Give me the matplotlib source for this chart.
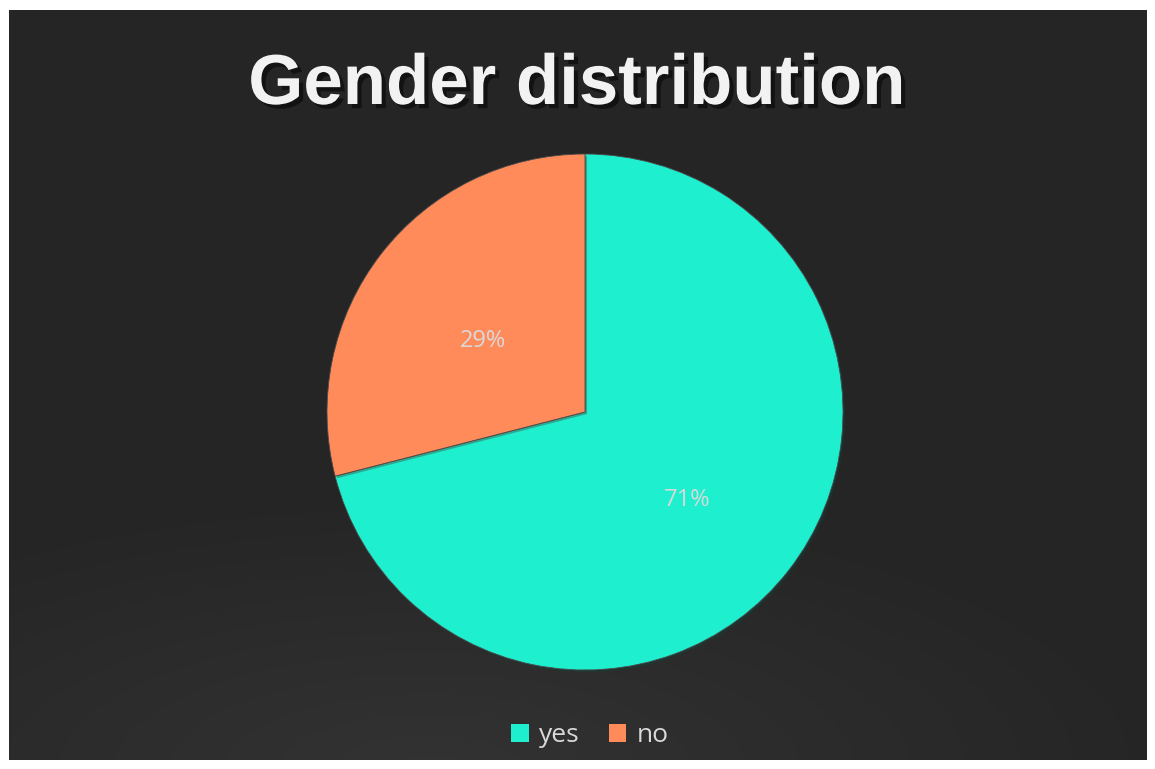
import matplotlib
matplotlib.use("Agg")
import matplotlib.pyplot as plt
import matplotlib.patches as mpatches
import matplotlib.patheffects as pe
import numpy as np

categories = ["yes", "no"]
values = [71, 29]
colors = ["#1DEFCF", "#FF8A5A"]
title = "Gender distribution"

W, H = 1155, 769
fig = plt.figure(figsize=(W / 100, H / 100), dpi=100)
fig.patch.set_facecolor("white")

# dark panel with subtle radial glow at bottom
bg = fig.add_axes([9 / W, 1 - 760 / H, (1147 - 9) / W, (760 - 10) / H])
bg.set_axis_off()
yy, xx = np.mgrid[0:750, 0:1138]
d = np.sqrt(((xx - 420) / 700.0) ** 2 + ((yy - 760) / 260.0) ** 2)
glow = np.clip(1 - d, 0, 1) * 0.05
base = 0x26 / 255.0
img = np.dstack([base + glow] * 3)
bg.imshow(img, aspect="auto", extent=[0, 1, 0, 1], origin="upper")
bg.set_xlim(0, 1)
bg.set_ylim(0, 1)

cx, cy, r = 585, 412, 258
ax = fig.add_axes([(cx - r) / W, 1 - (cy + r) / H, 2 * r / W, 2 * r / H])
ax.set_axis_off()
wedges, texts, autotexts = ax.pie(
    values,
    colors=colors,
    startangle=90,
    counterclock=False,
    radius=1.0,
    autopct="%1.0f%%",
    pctdistance=0.5,
    wedgeprops=dict(edgecolor="#4a4a4a", linewidth=0.6),
    textprops=dict(color="#D9D9D9", fontsize=17, family="Open Sans"),
)
for t in autotexts:
    x, y = t.get_position()
    t.set_position((x, y - 0.033))
for w in wedges:
    w.set_path_effects([pe.SimplePatchShadow(offset=(1.5, -1.5), alpha=0.35), pe.Normal()])
ax.set_xlim(-1, 1)
ax.set_ylim(-1, 1)
ax.set_aspect("equal")

fig.text(
    577 / W, 1 - 86 / H, title,
    ha="center", va="center",
    fontsize=51, fontweight="bold", family="Liberation Sans",
    color="#F2F2F2",
    path_effects=[pe.withSimplePatchShadow(offset=(3, -3), shadow_rgbFace="black", alpha=0.5)],
)

handles = [mpatches.Patch(facecolor=c, edgecolor="none") for c in colors]
leg = fig.legend(
    handles, categories,
    loc="center", bbox_to_anchor=(590 / W, 1 - 736 / H),
    ncol=2, frameon=False,
    prop=dict(family="Open Sans", size=19),
    handlelength=0.65, handleheight=0.65, handletextpad=0.4, columnspacing=1.1,
)
for t in leg.get_texts():
    t.set_color("#D9D9D9")

fig.savefig("out.png", dpi=100, facecolor=fig.get_facecolor())
